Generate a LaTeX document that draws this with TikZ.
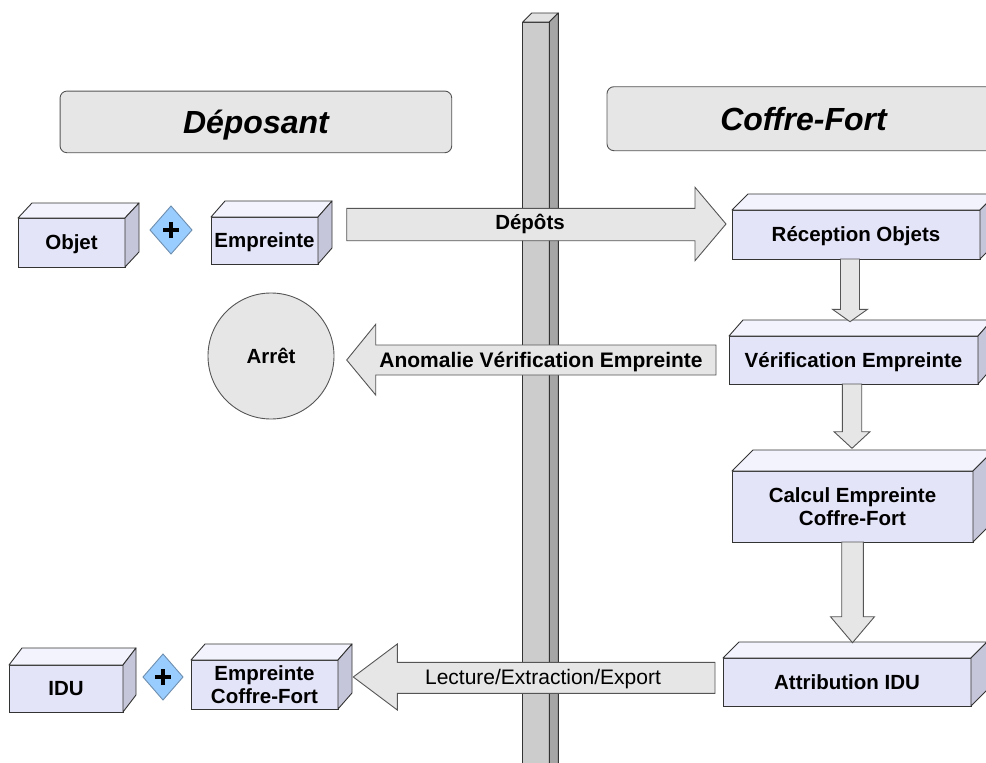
\documentclass[tikz,border=0pt]{standalone}
\usepackage{fontspec}
\setmainfont{Liberation Sans}
\usetikzlibrary{shapes.geometric}
\definecolor{frontc}{HTML}{E4E4F8}
\definecolor{topc}{HTML}{F3F3FE}
\definecolor{sidec}{HTML}{C6C6DA}
\definecolor{edgec}{HTML}{333333}
\definecolor{arrowc}{HTML}{E6E6E6}
\definecolor{arrowe}{HTML}{555555}
\definecolor{diac}{HTML}{99CCFF}
\definecolor{diae}{HTML}{6F8FAF}
\definecolor{pilf}{HTML}{CCCCCC}
\definecolor{pils}{HTML}{A6A6A6}
\definecolor{pilt}{HTML}{E2E2E2}
\tikzset{
 cube/.style={draw=edgec, fill=frontc, line width=0.9pt, inner sep=0pt, outer sep=0pt, align=center, font=\bfseries\fontsize{20.5}{23}\selectfont},
 oneline/.style={text height=14.7pt, text depth=0pt},
 topface/.style={draw=edgec, fill=topc, line width=0.9pt, line join=round},
 sideface/.style={draw=edgec, fill=sidec, line width=0.9pt, line join=round},
 header/.style={draw=arrowe, fill=arrowc, rounded corners=7pt, line width=0.9pt, inner sep=0pt, outer sep=0pt, font=\bfseries\itshape\fontsize{32}{36}\selectfont, text height=23pt, text depth=0pt},
 blockarrow/.style={draw=arrowe, fill=arrowc, line width=0.9pt, line join=miter},
 arrowlabel/.style={font=\bfseries\fontsize{20.5}{23}\selectfont, inner sep=0pt, anchor=base},
 pillarface/.style={draw=edgec, line width=0.9pt, line join=round},
 plusdia/.style={diamond, draw=diae, fill=diac, line width=0.9pt, inner sep=0pt, outer sep=0pt,
   path picture={\draw[draw=black, line width=4.5pt] ([xshift=-8pt]path picture bounding box.center) -- ([xshift=8pt]path picture bounding box.center);
                 \draw[draw=black, line width=4.5pt] ([yshift=-8pt]path picture bounding box.center) -- ([yshift=8pt]path picture bounding box.center);}},
}
\newcommand{\cubefaces}[3]{%
 \draw[topface] (#1.north west) -- ++(#2,-#3) -- ([shift={(#2,-#3)}]#1.north east) -- (#1.north east) -- cycle;
 \draw[sideface] (#1.north east) -- ++(#2,-#3) -- ([shift={(#2,-#3)}]#1.south east) -- (#1.south east) -- cycle;}
\begin{document}
\begin{tikzpicture}[x=1pt,y=-1pt]
\useasboundingbox (0,0) rectangle (986,763);
\clip (0,0) rectangle (986,763);
\fill[white] (0,0) rectangle (986,763);

% pillar
\draw[pillarface, fill=pilf] (522.7,22) rectangle (549.3,775);
\draw[pillarface, fill=pilt] (522.7,22) -- (531.7,13) -- (558.3,13) -- (549.3,22) -- cycle;
\draw[pillarface, fill=pils] (549.3,22) -- (558.3,13) -- (558.3,775) -- (549.3,775) -- cycle;

% headers
\node[header, minimum width=391.7pt, minimum height=61.7pt] (hdep) at (255.9,121.9) {Déposant};
\node[header, minimum width=393pt, minimum height=64pt] (hcof) at (803.5,118.7) {Coffre-Fort};

% left column top
\node[cube, oneline, minimum width=107pt, minimum height=49pt] (objet) at (71.5,242.5) {Objet};
\cubefaces{objet}{14}{15}
\node[plusdia, minimum width=42pt, minimum height=48pt] (dia1) at (171,230) {};
\node[cube, oneline, minimum width=107pt, minimum height=47pt] (empr) at (264.5,240.5) {Empreinte};
\cubefaces{empr}{14}{16}

% right column
\node[cube, oneline, minimum width=248pt, minimum height=49pt] (recep) at (856,234.5) {Réception Objets};
\cubefaces{recep}{16}{16}
\node[cube, oneline, minimum width=249pt, minimum height=48pt] (verif) at (853.5,360) {Vérification Empreinte};
\cubefaces{verif}{14}{16}
\node[cube, minimum width=241pt, minimum height=71pt] (calcul) at (852.5,506.5) {Calcul Empreinte\\Coffre-Fort};
\cubefaces{calcul}{21}{21}
\node[cube, oneline, minimum width=248pt, minimum height=48pt] (attrib) at (847,682) {Attribution IDU};
\cubefaces{attrib}{16}{16}

% left column bottom
\node[cube, oneline, minimum width=114pt, minimum height=47pt] (idu) at (66,688.5) {IDU};
\cubefaces{idu}{13}{17}
\node[plusdia, minimum width=40pt, minimum height=46pt] (dia2) at (163,677) {};
\node[cube, minimum width=147pt, minimum height=49pt] (emprcf) at (264.5,684.5) {Empreinte\\Coffre-Fort};
\cubefaces{emprcf}{14}{16}

% circle
\node[circle, draw=arrowe, fill=arrowc, line width=0.9pt, minimum size=126pt, inner sep=0pt, oneline,
      font=\bfseries\fontsize{20.5}{23}\selectfont] (arret) at (271,356) {Arrêt};

% block arrows
\draw[blockarrow] (346.7,208.3) -- (695,208.3) -- (695,187.3) -- (726,224) -- (695,260.7) -- (695,240.7) -- (346.7,240.7) -- cycle;
\node[arrowlabel] (ldepots) at (530,229.7) {Dépôts};

\draw[blockarrow] (716,345) -- (375.7,345) -- (375.7,324.3) -- (346.7,360) -- (375.7,395) -- (375.7,375) -- (716,375) -- cycle;
\node[arrowlabel, font=\bfseries\fontsize{21}{24}\selectfont] (lanom) at (541,367) {Anomalie Vérification Empreinte};

\draw[blockarrow] (715,662.3) -- (397.3,662.3) -- (397.3,644) -- (353.3,677) -- (397.3,710) -- (397.3,693.3) -- (715,693.3) -- cycle;
\node[arrowlabel, font=\fontsize{21}{24}\selectfont] (llect) at (543,684) {Lecture/Extraction/Export};

% down arrows
\draw[blockarrow] (840.5,259) -- (859.5,259) -- (859.5,309.3) -- (867.5,309.3) -- (850,321.7) -- (832.5,309.3) -- (840.5,309.3) -- cycle;
\draw[blockarrow] (842.3,384) -- (861.7,384) -- (861.7,431.7) -- (870,431.7) -- (852,448.3) -- (834,431.7) -- (842.3,431.7) -- cycle;
\draw[blockarrow] (841.7,542) -- (863.3,542) -- (863.3,616.7) -- (874.5,616.7) -- (852.5,642.7) -- (830.5,616.7) -- (841.7,616.7) -- cycle;
\end{tikzpicture}
\end{document}
